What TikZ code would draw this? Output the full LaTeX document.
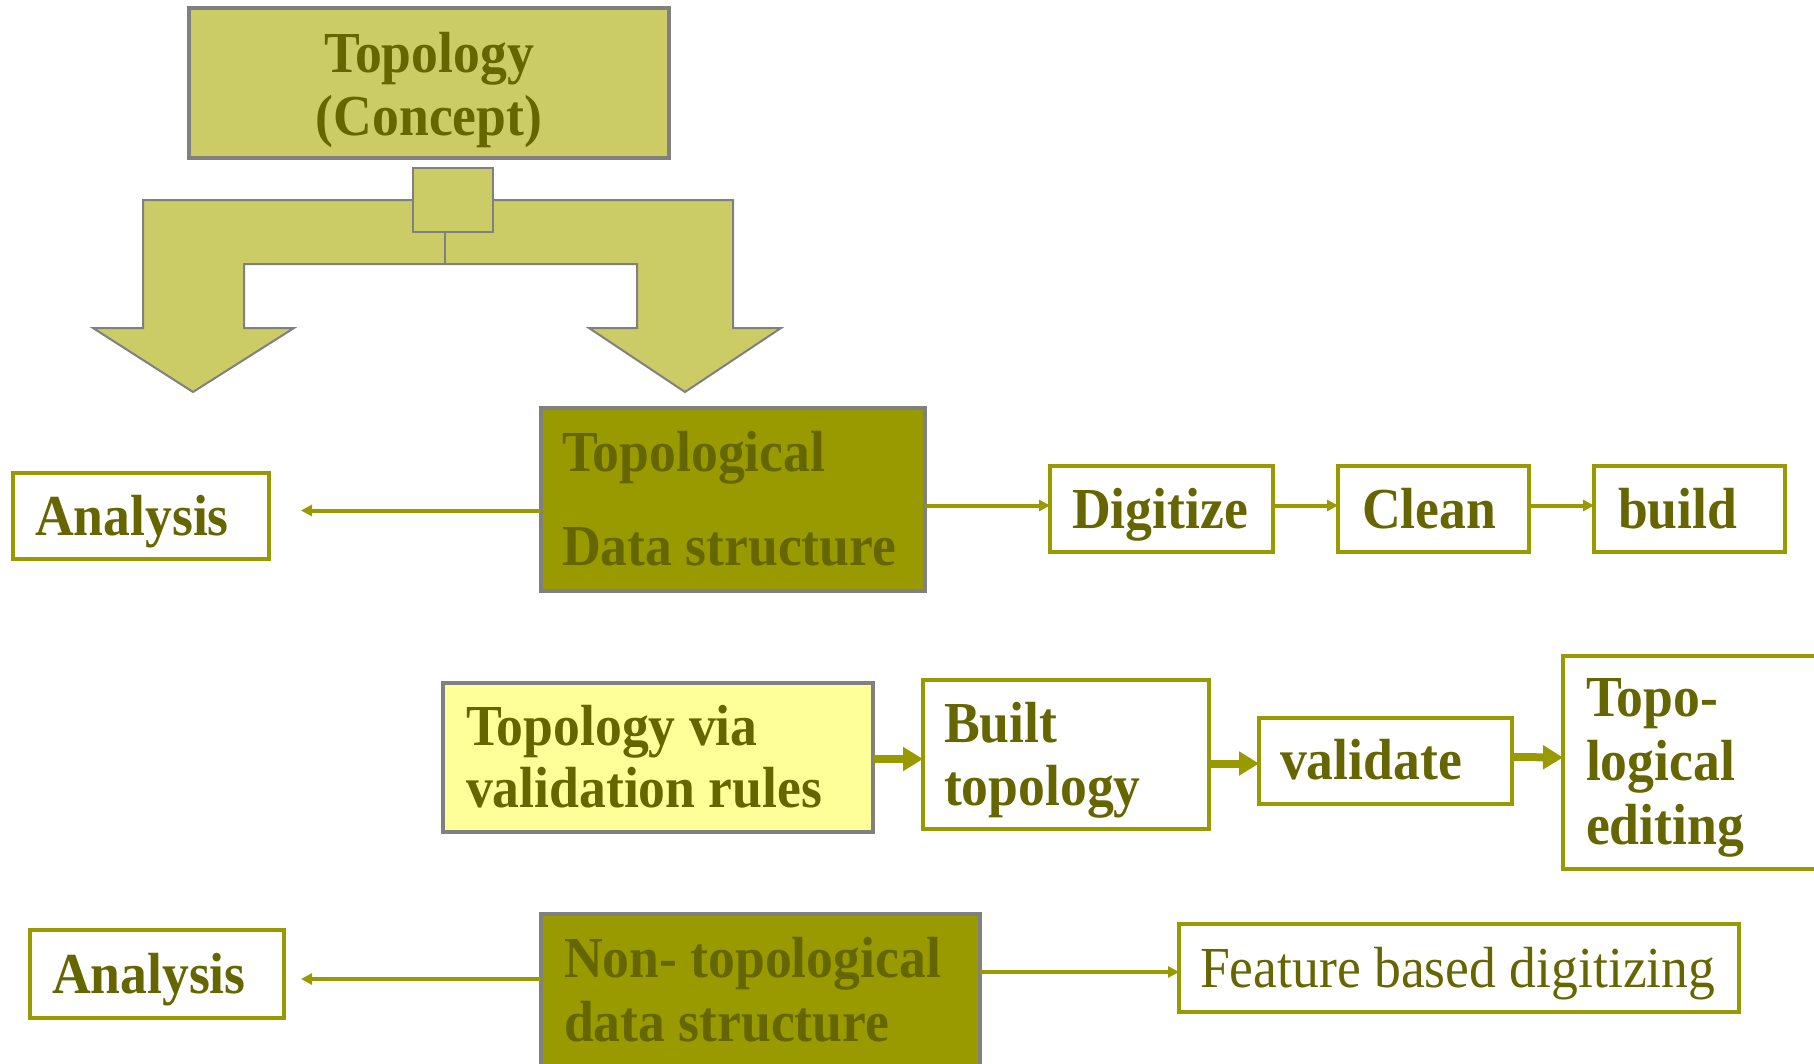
\documentclass[tikz,border=0pt]{standalone}
\usepackage{fontspec}
\setmainfont{Liberation Serif}[FakeStretch=0.925]
\usetikzlibrary{arrows.meta,calc}
\definecolor{olivelight}{HTML}{CCCC66}
\definecolor{olivedark}{HTML}{999900}
\definecolor{olivetext}{HTML}{666600}
\definecolor{paleyellow}{HTML}{FFFF99}
\definecolor{boxgray}{HTML}{808080}
\begin{document}
\begin{tikzpicture}[x=1pt,y=-1pt,
  every node/.style={inner sep=0pt, outer sep=0pt},
  box/.style={draw, rectangle, line width=3.5pt, anchor=north west},
  graybox/.style={box, draw=boxgray},
  olivebox/.style={box, draw=olivedark, fill=white},
  txt/.style={anchor=base west, text=olivetext, font=\fontsize{58}{63}\selectfont\bfseries},
  ctxt/.style={txt, anchor=base},
  rtxt/.style={anchor=base west, text=olivetext, font=\fontsize{58}{63}\selectfont},
  thinarrow/.style={draw=olivedark, line width=4pt, -{Triangle[length=11pt,width=11pt]}},
  thickarrow/.style={draw=olivedark, line width=8pt, -{Triangle[length=20pt,width=23pt]}}
]
\useasboundingbox (0,0) rectangle (1814,1063);
\clip (0,0) rectangle (1814,1063);

% fork arrow
\draw[boxgray, line width=2pt, fill=olivelight, line join=miter]
  (143,200) -- (733,200) -- (733,328) -- (781,328) -- (685,392) -- (589,328)
  -- (637,328) -- (637,264) -- (244,264) -- (244,328) -- (294,328) -- (193,392)
  -- (93,328) -- (143,328) -- cycle;

% top concept box
\node[graybox, fill=olivelight, minimum width=480pt, minimum height=150pt] (tc) at (189,8) {};
\node[ctxt] (tc1) at (429,72) {Topology};
\node[ctxt] (tc2) at (429,135) {(Concept)};

% small square on fork
\node[draw=boxgray, line width=2pt, fill=olivelight, anchor=north west,
      minimum width=80pt, minimum height=64pt] (sq) at (413,168) {};
\coordinate (forkin) at (445,264);
\draw[boxgray, line width=2pt] (forkin |- sq.south) -- (forkin);

% topological data structure row
\node[graybox, fill=olivedark, minimum width=384pt, minimum height=183pt] (tds) at (541,408) {};
\node[txt] (tds1) at (562,471) {Topological};
\node[txt] (tds2) at (562,565) {Data structure};

\node[olivebox, minimum width=256pt, minimum height=86pt] (a1) at (13,473) {};
\node[txt] (a1t) at (35,535) {Analysis};

\node[olivebox, minimum width=223pt, minimum height=86pt] (dig) at (1050,466) {};
\node[txt] (digt) at (1072,528) {Digitize};
\node[olivebox, minimum width=191pt, minimum height=86pt] (cln) at (1338,466) {};
\node[txt] (clnt) at (1362,528) {Clean};
\node[olivebox, minimum width=191pt, minimum height=86pt] (bld) at (1594,466) {};
\node[txt] (bldt) at (1618,528) {build};

\coordinate (a1tip) at ($(a1.east)+(32,-5.5)$);
\draw[thinarrow] (tds.west |- a1tip) -- (a1tip);
\coordinate (digin) at ($(dig.west)+(0,-3.5)$);
\draw[thinarrow] (tds.east |- digin) -- (digin);
\draw[thinarrow] ($(dig.east)+(0,-3.5)$) -- ($(cln.west)+(0,-3.5)$);
\draw[thinarrow] ($(cln.east)+(0,-3.5)$) -- ($(bld.west)+(0,-3.5)$);

% validation rules row
\node[graybox, fill=paleyellow, minimum width=430pt, minimum height=149pt] (via) at (443,683) {};
\node[txt] (via1) at (466,745) {Topology via};
\node[txt] (via2) at (466,807) {validation rules};

\node[olivebox, minimum width=286pt, minimum height=149pt] (blt) at (923,680) {};
\node[txt] (blt1) at (944,742) {Built};
\node[txt] (blt2) at (944,805) {topology};

\node[olivebox, minimum width=253pt, minimum height=86pt] (val) at (1259,718) {};
\node[txt] (valt) at (1280,779) {validate};

\node[olivebox, minimum width=277pt, minimum height=213pt] (ted) at (1563,656) {};
\node[txt] (ted1) at (1586,716) {Topo-};
\node[txt] (ted2) at (1586,780) {logical};
\node[txt] (ted3) at (1586,844) {editing};

\draw[thickarrow] ($(via.east)+(0,1.5)$) -- ($(blt.west)+(0,4.5)$);
\draw[thickarrow] ($(blt.east)+(0,9)$) -- ($(val.west)+(0,2.5)$);
\draw[thickarrow] ($(val.east)+(0,-4)$) -- ($(ted.west)+(0,-5)$);

% non-topological row
\node[graybox, fill=olivedark, minimum width=439pt, minimum height=186pt] (nt) at (541,914) {};
\node[txt] (nt1) at (564,977) {Non- topological};
\node[txt] (nt2) at (564,1041) {data structure};

\node[olivebox, minimum width=254pt, minimum height=88pt] (a2) at (30,930) {};
\node[txt] (a2t) at (52,993) {Analysis};

\node[olivebox, minimum width=560pt, minimum height=88pt] (feat) at (1179,924) {};
\node[rtxt] (featt) at (1200,987) {Feature based digitizing};

\coordinate (a2tip) at ($(a2.east)+(17,5)$);
\draw[thinarrow] (nt.west |- a2tip) -- (a2tip);
\coordinate (featin) at ($(feat.west)+(0,4)$);
\draw[thinarrow] (nt.east |- featin) -- (featin);
\end{tikzpicture}
\end{document}
